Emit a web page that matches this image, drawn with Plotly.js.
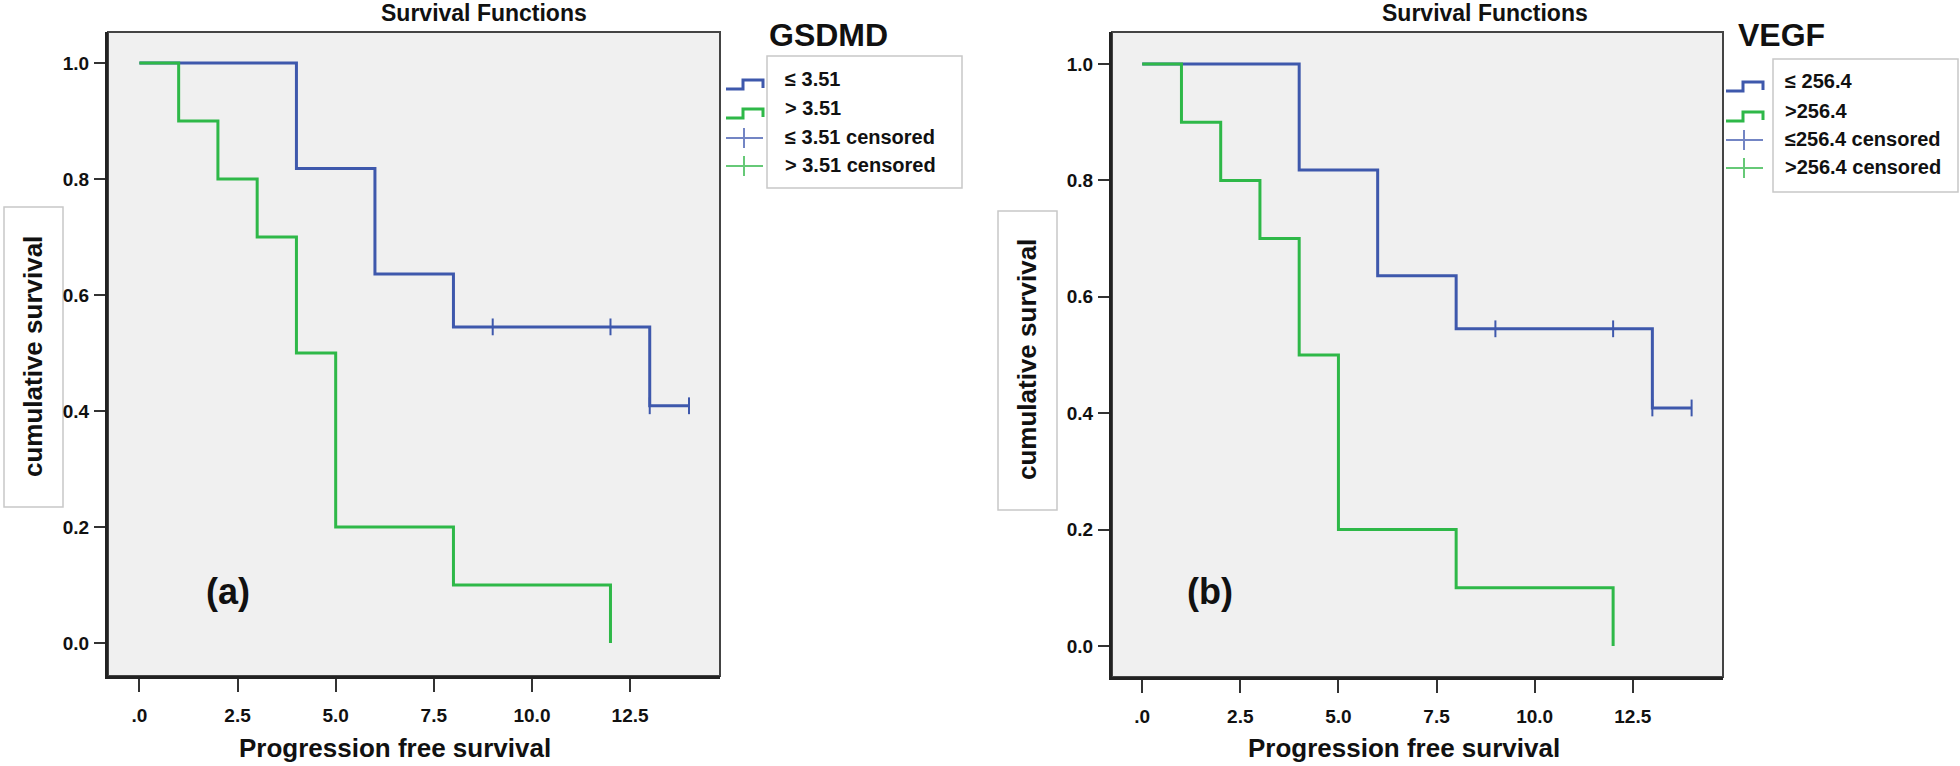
<!DOCTYPE html>
<html>
<head>
<meta charset="utf-8">
<script src="https://cdn.plot.ly/plotly-3.0.1.min.js"></script>
<style>
    body { margin: 0; background: #ffffff; }
    #chart { width: 1960px; height: 766px; }
</style>
</head>
<body>
<div id="chart"></div>
<script>
// Kaplan-Meier data, panel (a) GSDMD
const gsdmdLowTime = [0, 4, 6, 8, 13, 14];
const gsdmdLowSurv = [1.0, 0.818, 0.636, 0.545, 0.409, 0.409];
const gsdmdLowCensTime = [9, 12, 13, 14];
const gsdmdLowCensSurv = [0.545, 0.545, 0.409, 0.409];
const gsdmdHighTime = [0, 1, 2, 3, 4, 5, 8, 12];
const gsdmdHighSurv = [1.0, 0.9, 0.8, 0.7, 0.5, 0.2, 0.1, 0.0];

// panel (b) VEGF
const vegfLowTime = [0, 4, 6, 8, 13, 14];
const vegfLowSurv = [1.0, 0.818, 0.636, 0.545, 0.409, 0.409];
const vegfLowCensTime = [9, 12, 13, 14];
const vegfLowCensSurv = [0.545, 0.545, 0.409, 0.409];
const vegfHighTime = [0, 1, 2, 3, 4, 5, 8, 12];
const vegfHighSurv = [1.0, 0.9, 0.8, 0.7, 0.5, 0.2, 0.1, 0.0];

const xTickVals = [0, 2.5, 5, 7.5, 10, 12.5];
const xTickText = ['.0', '2.5', '5.0', '7.5', '10.0', '12.5'];
const yTickVals = [0, 0.2, 0.4, 0.6, 0.8, 1.0];
const yTickText = ['0.0', '0.2', '0.4', '0.6', '0.8', '1.0'];

const gsdmdLegend = ['≤ 3.51', '> 3.51', '≤ 3.51 censored', '> 3.51 censored'];
const vegfLegend = ['≤ 256.4', '>256.4', '≤256.4 censored', '>256.4 censored'];

const W = 1960, H = 766;
const BLUE = '#3e58ac';
const GREEN = '#2eb848';
const BLUE_LIGHT = '#7385c4';
const GREEN_LIGHT = '#66c977';
const FONT = 'Liberation Sans, Arial, sans-serif';

// pixel -> paper helpers (layout only)
const px = v => v / W;
const py = v => 1 - v / H;

function stepTrace(x, y, color, xa, ya) {
    return {
        x: x, y: y, xaxis: xa, yaxis: ya,
        type: 'scatter', mode: 'lines',
        line: { color: color, width: 3, shape: 'hv' },
        hoverinfo: 'skip', showlegend: false
    };
}

function censTrace(x, y, color, xa, ya) {
    return {
        x: x, y: y, xaxis: xa, yaxis: ya,
        type: 'scatter', mode: 'markers',
        marker: { symbol: 'line-ns', size: 12, line: { color: color, width: 2 } },
        hoverinfo: 'skip', showlegend: false
    };
}

const traces = [
    stepTrace(gsdmdLowTime, gsdmdLowSurv, BLUE, 'x', 'y'),
    stepTrace(gsdmdHighTime, gsdmdHighSurv, GREEN, 'x', 'y'),
    censTrace(gsdmdLowCensTime, gsdmdLowCensSurv, BLUE, 'x', 'y'),
    stepTrace(vegfLowTime, vegfLowSurv, BLUE, 'x2', 'y2'),
    stepTrace(vegfHighTime, vegfHighSurv, GREEN, 'x2', 'y2'),
    censTrace(vegfLowCensTime, vegfLowCensSurv, BLUE, 'x2', 'y2')
];

function xAxis(domain, range, anchor) {
    return {
        domain: domain, range: range, anchor: anchor,
        tickvals: xTickVals, ticktext: xTickText,
        ticks: 'outside', ticklen: 13, tickwidth: 2, tickcolor: '#333',
        ticklabelstandoff: 7,
        tickfont: { family: FONT, size: 19, color: '#111', weight: 'bold' },
        showline: true, linewidth: 3, linecolor: '#222',
        showgrid: false, zeroline: false, fixedrange: true
    };
}

function yAxis(domain, range, anchor) {
    return {
        domain: domain, range: range, anchor: anchor,
        tickvals: yTickVals, ticktext: yTickText,
        ticks: 'outside', ticklen: 11, tickwidth: 2, tickcolor: '#333',
        ticklabelstandoff: 1,
        tickfont: { family: FONT, size: 19, color: '#111', weight: 'bold' },
        showline: true, linewidth: 3, linecolor: '#222',
        showgrid: false, zeroline: false, fixedrange: true
    };
}

function label(text, x, y, size, extra) {
    return Object.assign({
        text: text, x: px(x), y: py(y), xref: 'paper', yref: 'paper',
        showarrow: false, xanchor: 'center', yanchor: 'middle',
        font: { family: FONT, size: size, color: '#111', weight: 'bold' }
    }, extra || {});
}

const annotations = [];
const shapes = [];

// frame around each plot area (thin top/right)
['x', 'x2'].forEach((xa, i) => {
    shapes.push({
        type: 'rect', xref: xa + ' domain', yref: (i ? 'y2' : 'y') + ' domain',
        x0: 0, x1: 1, y0: 0, y1: 1, line: { color: '#444', width: 2 }, layer: 'below'
    });
});

function panelDecor(p) {
    annotations.push(label('Survival Functions', p.titleX, 13, 23));
    annotations.push(label(p.group, p.groupX, 35, 32));
    annotations.push(label(p.tag, p.tagX, 591, 36));
    annotations.push(label('Progression free survival', p.xTitleX, 748, 26));
    annotations.push(label('cumulative survival', p.yTitleX, p.yTitleY, 26, { textangle: -90 }));

    // y title box
    shapes.push({
        type: 'rect', xref: 'paper', yref: 'paper',
        x0: px(p.yBox[0]), x1: px(p.yBox[1]), y0: py(p.yBox[3]), y1: py(p.yBox[2]),
        line: { color: '#c8c8c8', width: 1.5 }, fillcolor: 'rgba(0,0,0,0)', layer: 'below'
    });

    // legend box
    shapes.push({
        type: 'rect', xref: 'paper', yref: 'paper',
        x0: px(p.legBox[0]), x1: px(p.legBox[1]), y0: py(p.legBox[3]), y1: py(p.legBox[2]),
        line: { color: '#c8c8c8', width: 1.5 }, fillcolor: '#ffffff'
    });

    const colors = [BLUE, GREEN, BLUE_LIGHT, GREEN_LIGHT];
    p.legend.forEach((t, i) => {
        const cy = p.legY[i];
        annotations.push(label(t, p.legTextX, cy, 20, { xanchor: 'left' }));
        const gx = p.legTextX - 57;
        if (i < 2) {
            const path = 'M' + px(gx) + ',' + py(cy + 10) +
                ' H' + px(gx + 17) + ' V' + py(cy + 1) +
                ' H' + px(gx + 37) + ' V' + py(cy + 9);
            shapes.push({ type: 'path', xref: 'paper', yref: 'paper', path: path,
                line: { color: colors[i], width: 3 } });
        } else {
            shapes.push({ type: 'line', xref: 'paper', yref: 'paper',
                x0: px(gx), x1: px(gx + 37), y0: py(cy + 1), y1: py(cy + 1),
                line: { color: colors[i], width: 2 } });
            shapes.push({ type: 'line', xref: 'paper', yref: 'paper',
                x0: px(gx + 18), x1: px(gx + 18), y0: py(cy - 9), y1: py(cy + 11),
                line: { color: colors[i], width: 2 } });
        }
    });
}

panelDecor({
    group: 'GSDMD', tag: '(a)', legend: gsdmdLegend,
    titleX: 484, groupX: 828, tagX: 228, xTitleX: 395,
    yTitleX: 33, yTitleY: 357, yBox: [4, 63, 207, 507],
    legBox: [767, 962, 56, 188], legTextX: 783, legY: [79, 108, 137, 165]
});

panelDecor({
    group: 'VEGF', tag: '(b)', legend: vegfLegend,
    titleX: 1485, groupX: 1781, tagX: 1210, xTitleX: 1404,
    yTitleX: 1027, yTitleY: 360, yBox: [998, 1057, 211, 510],
    legBox: [1773, 1958, 59, 192], legTextX: 1783, legY: [81, 111, 139, 167]
});

const layout = {
    width: W, height: H,
    margin: { l: 0, r: 0, t: 0, b: 0 },
    paper_bgcolor: '#ffffff',
    plot_bgcolor: '#f0f0f0',
    showlegend: false,
    xaxis: xAxis([px(108), px(720)], [-0.80, 14.79], 'y'),
    yaxis: yAxis([py(676), py(32)], [-0.0569, 1.0534], 'x'),
    xaxis2: xAxis([px(1112), px(1723)], [-0.77, 14.80], 'y2'),
    yaxis2: yAxis([py(677), py(32)], [-0.0533, 1.055], 'x2'),
    annotations: annotations,
    shapes: shapes
};

Plotly.newPlot('chart', traces, layout, { staticPlot: true });
</script>
</body>
</html>
